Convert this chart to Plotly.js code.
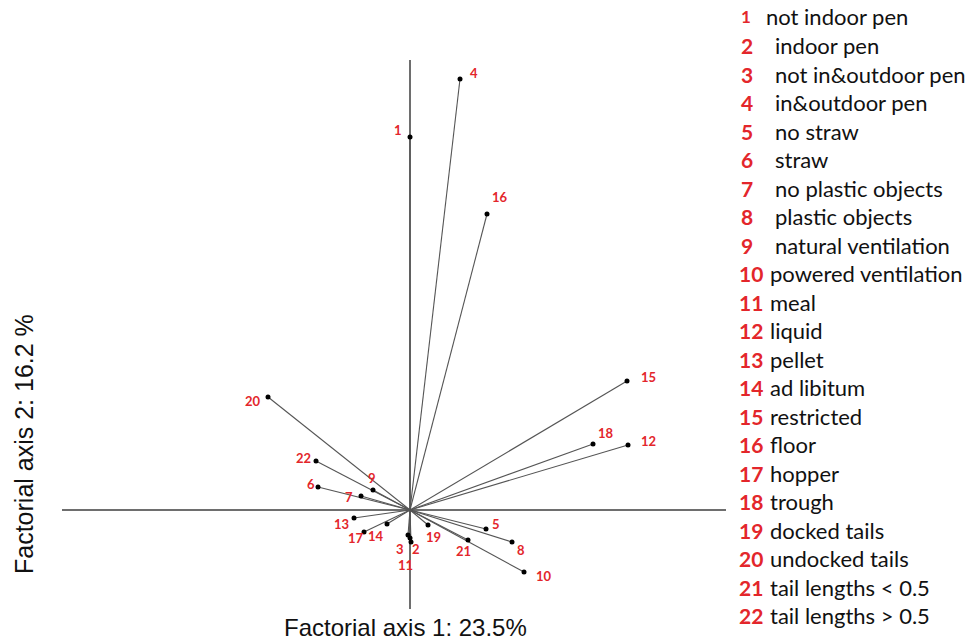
<!DOCTYPE html>
<html>
<head>
<meta charset="utf-8">
<script src="https://cdn.plot.ly/plotly-3.0.1.min.js"></script>
<style>html,body{margin:0;padding:0;background:#fff;}#chart{width:970px;height:640px;}</style>
</head>
<body>
<div id="chart"></div>
<script>
// Variable ids and names
const ids = ['1','2','3','4','5','6','7','8','9','10','11','12','13','14','15','16','17','18','19','20','21','22'];
const names = ['not indoor pen','indoor pen','not in&outdoor pen','in&outdoor pen','no straw','straw',
  'no plastic objects','plastic objects','natural ventilation','powered ventilation','meal','liquid',
  'pellet','ad libitum','restricted','floor','hopper','trough','docked tails','undocked tails',
  'tail lengths < 0.5','tail lengths > 0.5'];
// Coordinates on factorial axis 1 and 2 (relative units)
const axis1 = [0.00, 0.01, -0.02, 0.50, 0.76, -0.92, -0.49, 1.02, -0.37, 1.14, 0.00, 2.18,
  -0.56, -0.23, 2.17, 0.77, -0.46, 1.83, 0.18, -1.42, 0.58, -0.94];
const axis2 = [3.73, -0.32, -0.25, 4.31, -0.19, 0.23, 0.14, -0.32, 0.20, -0.62, -0.28, 0.65,
  -0.08, -0.14, 1.29, 2.96, -0.22, 0.66, -0.15, 1.13, -0.30, 0.49];
const xTitle = 'Factorial axis 1: 23.5%';
const yTitle = 'Factorial axis 2: 16.2 %';

// --- styling / placement (not data) ---
const RED = '#e3262b';
// label offsets in pixels [dx, dy(down)]
const labelOff = [[-12,-7],[5,7],[-8,14],[14,-6],[10,-5],[-7,-3],[-12,1],[9,8],[-1,-12],[20,4],
  [-5,27],[20,-4],[-13,6],[-11,12],[21,-4],[13,-17],[-8,6],[13,-11],[5,12],[-15,4],[-5,11],[-13,-3]];

const L = 62, R = 726, T = 60, B = 609, W = 970, H = 640;
const px2paperX = px => (px - L) / (R - L);
const py2paperY = py => (B - py) / (B - T);

const traces = [];
const lx = [], ly = [];
for (let i = 0; i < ids.length; i++) {
  lx.push(0, axis1[i], null);
  ly.push(0, axis2[i], null);
}
traces.push({x: lx, y: ly, mode: 'lines', type: 'scatter', line: {color: '#555555', width: 1.1}, hoverinfo: 'skip', showlegend: false});
traces.push({x: axis1, y: axis2, mode: 'markers', type: 'scatter', marker: {color: '#000', size: 5}, text: names, showlegend: false});

const annotations = [];
for (let i = 0; i < ids.length; i++) {
  annotations.push({x: axis1[i], y: axis2[i], xref: 'x', yref: 'y', text: '<b>' + ids[i] + '</b>', showarrow: false,
    xshift: labelOff[i][0], yshift: -labelOff[i][1], font: {family: 'Lato, sans-serif', size: 13, color: RED}});
}
// right-hand key
for (let i = 0; i < ids.length; i++) {
  const n = i + 1;
  const yc = 17 + i * 28.5;
  const numX = n >= 10 ? 737 : 739;
  const txtX = n === 1 ? 764 : (n >= 10 ? 768 : 773);
  annotations.push({xref: 'paper', yref: 'paper', x: px2paperX(numX), y: py2paperY(yc), xanchor: 'left', yanchor: 'middle',
    text: '<b>' + ids[i] + '</b>', showarrow: false, font: {family: 'Lato, sans-serif', size: n === 1 ? 17 : 21, color: RED}});
  annotations.push({xref: 'paper', yref: 'paper', x: px2paperX(txtX), y: py2paperY(yc), xanchor: 'left', yanchor: 'middle',
    text: names[i], showarrow: false, font: {family: 'Lato, sans-serif', size: 22, color: '#111'}});
}
// axis titles
annotations.push({xref: 'paper', yref: 'paper', x: px2paperX(405), y: py2paperY(627), xanchor: 'center', yanchor: 'middle',
  text: xTitle, showarrow: false, font: {family: 'Liberation Sans, Arial, sans-serif', size: 24, color: '#111'}});
annotations.push({xref: 'paper', yref: 'paper', x: px2paperX(24), y: py2paperY(444), xanchor: 'center', yanchor: 'middle',
  text: yTitle, textangle: -90, showarrow: false, font: {family: 'Liberation Sans, Arial, sans-serif', size: 25, color: '#111'}});

const xr = [(L - 410) / 100, (R - 410) / 100];
const yr = [(510 - B) / 100, (510 - T) / 100];

const layout = {
  width: W, height: H,
  margin: {l: L, r: W - R, t: T, b: H - B, pad: 0},
  paper_bgcolor: '#fff', plot_bgcolor: '#fff',
  xaxis: {range: xr, showgrid: false, showticklabels: false, ticks: '', showline: false, zeroline: true, zerolinecolor: '#6e6e6e', zerolinewidth: 1.5, fixedrange: true},
  yaxis: {range: yr, showgrid: false, showticklabels: false, ticks: '', showline: false, zeroline: true, zerolinecolor: '#6e6e6e', zerolinewidth: 1.5, fixedrange: true},
  annotations: annotations,
  showlegend: false
};
Plotly.newPlot('chart', traces, layout, {displayModeBar: false, staticPlot: true});
</script>
</body>
</html>
